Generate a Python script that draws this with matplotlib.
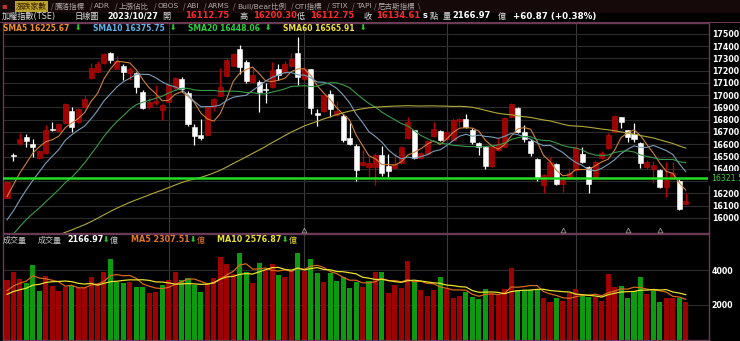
import numpy as np
import matplotlib.pyplot as plt
from matplotlib.patches import Rectangle

plt.rcParams['font.family'] = ['DejaVu Sans', 'Noto Sans CJK TC']

# closes / volumes before the visible window (only feed the moving averages)
pre_close = [15530, 15480, 15560, 15620, 15590, 15650, 15540, 15480, 15510,
             15560, 15610, 15690, 15720, 15650, 15590, 15640, 15700, 15760, 15810,
             15790, 15740, 15700, 15750, 15820, 15860, 15880, 15830, 15790, 15850,
             15900, 15870, 15810, 15760, 15700, 15650, 15600,
             15520, 15440, 15380, 15350, 15330,
             15420, 15500, 15600, 15650, 15700, 15740, 15760, 15820, 15870,
             15760, 15740, 15800, 15830, 15845,
             16010, 16160, 16230, 16170]
pre_vol = [2300, 2450, 2380, 2500, 2395, 2550, 2700, 2620, 2786]

opens = [16165, 16510, 16607, 16656, 16599, 16485, 16526, 16725, 16707, 16770,
         16870, 16778, 16900, 17136, 17191, 17263, 17347, 17215, 17238, 17181,
         17181, 17024, 16905, 16932, 16878, 16946, 17055, 17130, 17019, 16742,
         16675, 16675, 16900, 16994, 17154, 17241, 17374, 17266, 17103, 17108,
         17054, 17063, 17209, 17185, 17236, 17344, 17128, 17209, 16851, 16872,
         17006, 16837, 16829, 16648, 16588, 16431, 16417, 16417, 16510, 16420,
         16410, 16445, 16653, 16715, 16490, 16520, 16667, 16707, 16640, 16634,
         16790, 16802, 16715, 16607, 16580, 16423, 16553, 16580, 16824, 16897,
         16702, 16629, 16477, 16268, 16344, 16439, 16276, 16336, 16390, 16520,
         16417, 16336, 16485, 16567, 16702, 16818, 16715, 16680, 16612, 16417,
         16395, 16390, 16255, 16323, 16303, 16112.75]
highs = [16300, 16531, 16689, 16680, 16642, 16555, 16756, 16778, 16770, 16935,
         16900, 16895, 17000, 17258, 17279, 17345, 17350, 17316, 17250, 17233,
         17190, 17040, 16980, 17081, 16925, 17090, 17145, 17149, 17030, 16762,
         16802, 16905, 16975, 17225, 17300, 17345, 17406, 17285, 17217, 17122,
         17095, 17271, 17250, 17282, 17344, 17474, 17230, 17215, 16884, 17005,
         17040, 16954, 16846, 16770, 16600, 16553, 16498, 16531, 16585, 16523,
         16525, 16590, 16824, 16720, 16535, 16632, 16783, 16715, 16720, 16810,
         16810, 16845, 16730, 16615, 16590, 16590, 16650, 16820, 16935, 16905,
         16760, 16645, 16490, 16358, 16498, 16445, 16336, 16409, 16585, 16575,
         16425, 16475, 16545, 16690, 16835, 16825, 16720, 16770, 16620, 16475,
         16465, 16400, 16458, 16455, 16320, 16200.30]
lows = [16160, 16463, 16593, 16580, 16498, 16480, 16520, 16707, 16700, 16765,
        16702, 16770, 16895, 17130, 17185, 17255, 17258, 17209, 17122, 17125,
        17014, 16885, 16890, 16919, 16797, 16940, 17050, 17027, 16748, 16593,
        16634, 16665, 16870, 16990, 17150, 17235, 17176, 17097, 17095, 16859,
        16933, 17055, 17122, 17170, 17230, 17081, 17120, 16846, 16748, 16866,
        16825, 16829, 16620, 16593, 16303, 16425, 16336, 16268, 16341, 16336,
        16405, 16440, 16645, 16478, 16480, 16512, 16660, 16626, 16620, 16626,
        16748, 16730, 16600, 16512, 16395, 16415, 16545, 16575, 16815, 16690,
        16620, 16505, 16300, 16200, 16340, 16270, 16214, 16330, 16385, 16450,
        16200, 16330, 16480, 16560, 16695, 16730, 16620, 16615, 16404, 16395,
        16285, 16245, 16168, 16315, 16065, 16112.75]
closes = [16295, 16505, 16640, 16624, 16580, 16547, 16715, 16720, 16764, 16927,
          16742, 16889, 16965, 17220, 17250, 17339, 17290, 17282, 17190, 17209,
          17063, 16892, 16946, 16953, 16919, 17081, 17136, 17054, 16762, 16667,
          16648, 16900, 16965, 17068, 17290, 17339, 17230, 17116, 17168, 17027,
          17040, 17203, 17168, 17250, 17298, 17149, 17209, 16892, 16837, 17000,
          16884, 16870, 16634, 16602, 16390, 16458, 16445, 16512, 16370, 16385,
          16440, 16580, 16783, 16485, 16526, 16626, 16721, 16634, 16700, 16797,
          16805, 16737, 16620, 16580, 16420, 16580, 16600, 16812, 16927, 16702,
          16640, 16531, 16323, 16350, 16458, 16276, 16309, 16363, 16567, 16458,
          16276, 16458, 16526, 16675, 16829, 16783, 16656, 16642, 16445, 16458,
          16430, 16255, 16309, 16363, 16073.74, 16134.61]
volumes = [3428, 3905, 3486, 3238, 4267, 2819, 3657, 3086, 2800, 3010,
           3086, 2952, 3048, 3619, 3238, 3886, 4610, 3333, 3276, 3333,
           3048, 3048, 2667, 2762, 3143, 3428, 3867, 3428, 3543, 3143,
           2762, 3181, 3562, 4762, 4343, 3771, 4990, 3905, 3238, 4419,
           4000, 4343, 3714, 3581, 3962, 4952, 3962, 4648, 3810, 3333,
           3810, 3371, 3581, 2990, 3333, 3048, 3390, 3905, 3905, 2667,
           3143, 2990, 4514, 3295, 2857, 2533, 2857, 3619, 2914, 2381,
           2533, 2762, 2476, 2343, 2914, 2667, 2571, 2895, 4095, 2857,
           2857, 2857, 2857, 2419, 2190, 2381, 2229, 2667, 2895, 2571,
           2476, 2476, 2229, 3752, 3048, 3086, 2419, 2800, 3619, 2610,
           2838, 2190, 2419, 2419, 2419, 2166.97]

month_start = [25, 46, 68, 88]
mark_days = [46, 86, 96, 101]
price_ticks = list(range(16000, 17501, 100))
vol_ticks = [2000, 4000]
support = 16321.5

n = len(closes)
x = np.arange(n)
o, h, l, c = map(np.array, (opens, highs, lows, closes))
v = np.array(volumes)


def sma(vals, k, keep):
    return np.convolve(vals, np.ones(k) / k, mode='valid')[-keep:]


all_c = np.r_[pre_close, closes]
all_v = np.r_[pre_vol, volumes]
ma_lines = [(5, '#d0803a'), (10, '#7a9cb8'), (20, '#3a9a4a'), (60, '#b0a83a')]
prev_c = np.r_[pre_close[-1], closes[:-1]]

W, H = 740, 341
fig = plt.figure(figsize=(7.4, 3.41), dpi=100, facecolor='black')


def fpos(px, py):
    return px / W, 1 - py / H


ax1 = fig.add_axes([3 / W, 1 - 232.7 / H, 706 / W, 209.4 / H], facecolor='black')
ax2 = fig.add_axes([3 / W, 1 - 340 / H, 706 / W, 105.7 / H], facecolor='black')

frame = '#6a3a55'
for ax in (ax1, ax2):
    for s in ax.spines.values():
        s.set_color(frame)
        s.set_linewidth(1)
    ax.set_xlim(-0.62, 108.6)
    ax.set_xticks([])
    ax.yaxis.tick_right()
    ax.tick_params(axis='y', length=0, labelsize=5.7, labelcolor='white', pad=2)
    for m in month_start:
        ax.axvline(m, color='#3a3a3a', lw=0.8, zorder=0)

# price panel
ax1.set_ylim(15880, 17585)
ax1.set_yticks(price_ticks)
ax1.set_yticklabels([str(t) for t in price_ticks], fontweight='bold')
ax1.grid(axis='y', color='#2c2c2c', lw=0.8)
ax1.set_axisbelow(True)

up = c >= o
wick_col = np.where(up, '#c00000', '#ffffff')
ax1.vlines(x, l, h, colors=wick_col, lw=0.9, zorder=2)
body_lo = np.minimum(o, c)
body_h = np.maximum(np.abs(c - o), 5)
ax1.bar(x, body_h, bottom=body_lo, width=0.78,
        color=np.where(up, '#a00000', '#ffffff'),
        edgecolor=np.where(up, '#b81010', '#ffffff'), lw=0.4, zorder=3)

for k, col in ma_lines:
    ax1.plot(x, sma(all_c, k, n), color=col, lw=0.8, zorder=4)

ax1.axhline(support, color='#22dd22', lw=1.8, zorder=5)
ax1.plot(mark_days, [15902] * len(mark_days), ls='none', marker='^', ms=3.5,
         mfc='none', mec='#9a9a9a', mew=0.6, zorder=5)
ax1.text(1.003, support, '16321.5', transform=ax1.get_yaxis_transform(),
         color='#3ad03a', fontsize=5.6, va='center', ha='left', clip_on=False,
         bbox=dict(boxstyle='square,pad=0.35', fc='black', ec='none'), zorder=10)

# volume panel
ax2.set_ylim(0, 6040)
ax2.set_yticks(vol_ticks)
ax2.set_yticklabels([str(t) for t in vol_ticks], fontweight='bold')
ax2.grid(axis='y', color='#2c2c2c', lw=0.8)
ax2.set_axisbelow(True)
vol_up = c >= prev_c
ax2.bar(x, v, width=0.78, color=np.where(vol_up, '#a00000', '#0e9a0e'), zorder=2)
ax2.plot(x, sma(all_v, 5, n), color='#d46a1e', lw=0.9, zorder=3)
ax2.plot(x, sma(all_v, 10, n), color='#e8e030', lw=0.9, zorder=3)


def ftxt(px, py, s, color, size=6, bold=True, **kw):
    fig.text(*fpos(px, py), s, color=color, fontsize=size,
             fontweight='bold' if bold else 'normal', va='center', ha='left', **kw)


# tab bar
fig.patches.append(Rectangle(fpos(0, 13), 1, 13 / H, transform=fig.transFigure,
                             fc='#160909', ec='none', zorder=0))
fig.patches.append(Rectangle(fpos(0, 23.3), 1, 1 / H, transform=fig.transFigure,
                             fc=frame, ec='none', zorder=0))
ftxt(1, 6, '▪', '#c03030', 6)
ftxt(16, 6.5, '漲跌家數', '#3a1800', 5.6, False,
     bbox=dict(boxstyle='square,pad=0.15', fc='#b8a428', ec='none'))
tabs = [(55, '騰落指標'), (94, 'ADR'), (119, '上漲佔比'), (158, 'OBOS'), (187, 'ABI'),
        (208, 'ARMS'), (237, 'Bull/Bear比例'), (295, 'OTI指標'), (331, 'STIX'),
        (356, 'TAPI'), (378, '尼古斯指標')]
for tx, name in tabs:
    ftxt(tx - 4, 6.5, '/', '#7a6a6a', 5.5, False)
    ftxt(tx, 6.5, name, '#b0a8a8', 5.4, False)
ftxt(418, 6.5, '\\', '#7a6a6a', 5.5, False)

# info row
ftxt(2, 16, '加權指數(TSE)', '#e0e0e0', 5.9, False)
ftxt(74, 16, '日線圖', '#e0e0e0', 5.9, False)
ftxt(107, 16, '2023/10/27', 'white', 5.9)
red = '#ff2a2a'
for px, lab, vx, val in [(162, '開', 185, '16112.75'), (240, '高', 253, '16200.30'),
                         (297, '低', 310, '16112.75'), (364, '收', 376, '16134.61')]:
    ftxt(px, 16, lab, '#e0e0e0', 5.9, False)
    ftxt(vx, 16, val, red, 6.0)
ftxt(423, 16, 's', 'white', 6.0)
ftxt(430, 16, '點', '#e0e0e0', 5.9, False)
ftxt(443, 16, '量', '#e0e0e0', 5.9, False)
ftxt(452, 16, '2166.97', 'white', 6.0)
ftxt(498, 16, '億', '#e0e0e0', 5.9, False)
ftxt(513, 16, '+60.87 (+0.38%)', 'white', 6.3)

# MA legend row
arrow = '#22cc22'
for px, s, col, ax_px in [(3, 'SMA5 16225.67', '#f0902a', 75),
                          (93, 'SMA10 16375.75', '#5fb3e8', 170),
                          (188, 'SMA20 16448.06', '#2ecc40', 265),
                          (283, 'SMA60 16565.91', '#f0e040', 360)]:
    ftxt(px, 28.7, s, col, 5.5)
    ftxt(ax_px, 28.7, '⬇', arrow, 5.5)

# volume legend row
ftxt(3, 240, '成交量', '#c8c8c8', 5.8, False)
ftxt(38, 240, '成交量', '#c8c8c8', 5.8, False)
ftxt(67, 240, '2166.97', 'white', 5.8)
ftxt(103, 240, '⬇', arrow, 5.5)
ftxt(110, 240, '億', '#c8c8c8', 5.8, False)
ftxt(131, 240, 'MA5 2307.51', '#e07828', 5.8)
ftxt(190, 240, '⬇', arrow, 5.5)
ftxt(197, 240, '億', '#e07828', 5.8, False)
ftxt(217, 240, 'MA10 2576.87', '#e8e030', 5.8)
ftxt(282, 240, '⬇', arrow, 5.5)
ftxt(289, 240, '億', '#e8e030', 5.8, False)

fig.savefig('out.png', dpi=100, facecolor='black')
